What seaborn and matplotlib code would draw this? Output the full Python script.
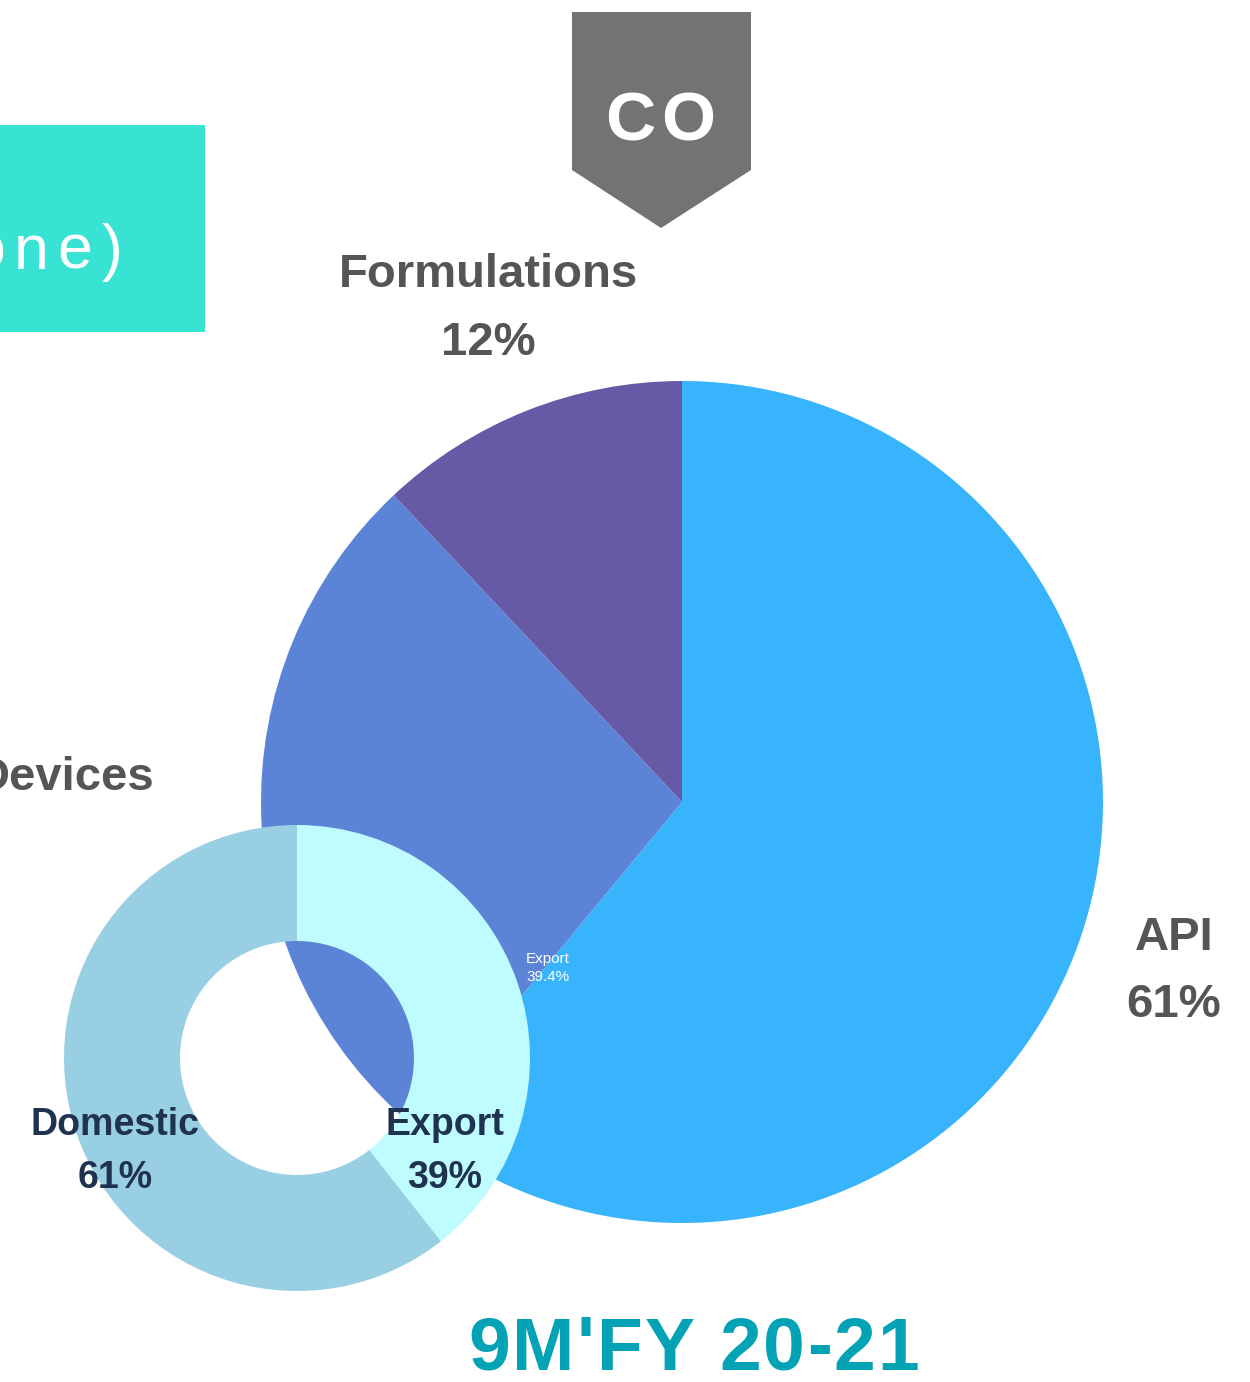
import matplotlib
matplotlib.use("Agg")
import matplotlib.pyplot as plt
import seaborn as sns
from matplotlib.patches import Polygon, Rectangle
from matplotlib.font_manager import FontProperties

sns.set_theme(style="white")
plt.rcParams['font.family'] = ['Liberation Sans', 'DejaVu Sans']

# ---- data ----
segment_labels = ["API", "Devices", "Formulations"]
segment_values = [61, 27, 12]
segment_colors = ["#38B4FC", "#5C84D6", "#6659A5"]

geo_labels = ["Export", "Domestic"]
geo_values = [39.4, 60.6]
geo_colors = ["#BFFCFF", "#99CFE2"]

title_text = "9M'FY 20-21"
badge_text = "CO"
banner_text = "(Standalone)"

W, H = 1250, 1382
fig = plt.figure(figsize=(W / 100, H / 100), dpi=100)
ax = fig.add_axes([0, 0, 1, 1])
renderer = fig.canvas.get_renderer()

def py(y):
    return H - y

def spaced_text(x, y, s, spacing, ha='center', fontsize=12, fontweight='normal', **kw):
    """Draw text with extra letter spacing (data units == pixels)."""
    prop = FontProperties(family=['Liberation Sans', 'DejaVu Sans'], size=fontsize, weight=fontweight)
    widths = [renderer.get_text_width_height_descent(c, prop, ismath=False)[0] for c in s]
    total = sum(widths) + spacing * (len(s) - 1)
    if ha == 'center':
        x0 = x - total / 2
    elif ha == 'right':
        x0 = x - total
    else:
        x0 = x
    cx = x0
    for c, w in zip(s, widths):
        if cx + w > 0:  # skip glyphs that fall entirely off the canvas
            ax.text(cx, y, c, ha='left', va='center', fontproperties=prop, **kw)
        cx += w + spacing

# big pie
ax.pie(segment_values, colors=segment_colors, startangle=90, counterclock=False,
       center=(682, py(802)), radius=421, wedgeprops=dict(linewidth=0),
       frame=False)

# donut
wedges, _ = ax.pie(geo_values, colors=geo_colors, startangle=90, counterclock=False,
                   center=(297, py(1058)), radius=233,
                   wedgeprops=dict(width=116, linewidth=0), frame=False)
for w in wedges:
    w.set_zorder(5)

ax.set_xlim(0, W)
ax.set_ylim(0, H)
ax.set_aspect('equal')
ax.axis('off')

# banner rectangle (cyan)
ax.add_patch(Rectangle((-10, py(332)), 215, 207, facecolor="#38E3D4", edgecolor='none', zorder=2))
spaced_text(122, py(252), banner_text, 9, ha='right', fontsize=45, color='white', zorder=3)

# grey badge
ax.add_patch(Polygon([(572, py(12)), (751, py(12)), (751, py(170)), (661, py(228)), (572, py(170))],
                     closed=True, facecolor="#737373", edgecolor='none', zorder=2))
spaced_text(660, py(122), badge_text, 6, ha='center', fontsize=50, fontweight='bold',
            color='white', zorder=3)

lab_col = "#555555"
fs = 34
# segment labels
seg_pos = {"API": (1174, 938, 1005), "Formulations": (488, 275, 343)}
for lab, val in zip(segment_labels, segment_values):
    if lab in seg_pos:
        x, y1, y2 = seg_pos[lab]
        ax.text(x, py(y1), lab, color=lab_col, fontsize=fs, fontweight='bold', ha='center', va='center')
        ax.text(x, py(y2), f"{round(val)}%", color=lab_col, fontsize=fs, fontweight='bold', ha='center', va='center')
ax.text(155, py(778), segment_labels[1], color=lab_col, fontsize=fs, fontweight='bold', ha='right', va='center')

# donut labels
geo_pos = {"Domestic": (115, 1125, 1178), "Export": (445, 1125, 1178)}
for lab, val in zip(geo_labels, geo_values):
    x, y1, y2 = geo_pos[lab]
    ax.text(x, py(y1), lab, color="#1F3350", fontsize=27, fontweight='bold', ha='center', va='center', zorder=10)
    ax.text(x, py(y2), f"{round(val)}%", color="#1F3350", fontsize=27, fontweight='bold', ha='center', va='center', zorder=10)

# small leftover label
ax.text(548, py(968), f"{geo_labels[0]}\n{geo_values[0]}%", color='white', fontsize=11,
        ha='center', va='center', linespacing=1.35, zorder=6)

# title
spaced_text(694, py(1350), title_text, 2, ha='center', fontsize=54, fontweight='bold',
            color="#03A2B5")

fig.savefig("out.png", dpi=100)
